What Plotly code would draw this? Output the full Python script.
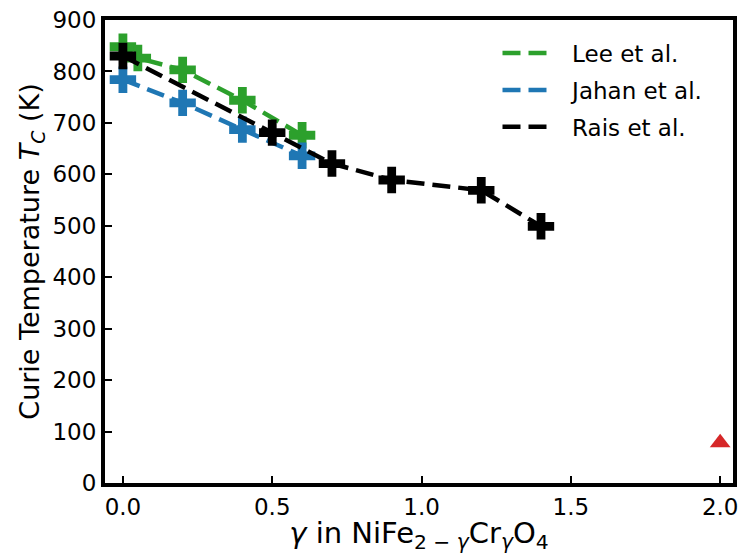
import plotly.graph_objects as go

# Data
lee_x = [0.0, 0.05, 0.2, 0.4, 0.6]
lee_y = [848, 826, 803, 744, 676]
jahan_x = [0.0, 0.2, 0.4, 0.6]
jahan_y = [784, 739, 687, 636]
rais_x = [0.0, 0.5, 0.7, 0.9, 1.2, 1.4]
rais_y = [830, 681, 621, 589, 569, 499]
red_x = [2.0]
red_y = [78]
legend_names = ["Lee et al.", "Jahan et al.", "Rais et al."]

GREEN = "#2ca02c"
BLUE = "#1f77b4"
BLACK = "#000000"
RED = "#d62728"
DASH = "18px,8px"
LW = 4.5
MS = 22

fig = go.Figure()

series = [
    (legend_names[0], lee_x, lee_y, GREEN),
    (legend_names[1], jahan_x, jahan_y, BLUE),
    (legend_names[2], rais_x, rais_y, BLACK),
]
for name, xs, ys, col in series:
    fig.add_trace(go.Scatter(
        x=xs, y=ys, mode="lines+markers", name=name, showlegend=False,
        line=dict(color=col, width=LW, dash=DASH),
        marker=dict(symbol="cross", size=MS, color=col, line=dict(width=0)),
    ))

fig.add_trace(go.Scatter(
    x=red_x, y=red_y, mode="markers", showlegend=False,
    marker=dict(symbol="triangle-up", size=18, color=RED, line=dict(width=0)),
))

# legend entries (lines only)
for i, (name, xs, ys, col) in enumerate(series):
    fig.add_trace(go.Scatter(
        x=[None], y=[None], mode="lines", name="\u00a0\u00a0" + name,
        legendgroup=str(i),
        line=dict(color=col, width=LW, dash=DASH),
    ))

axis_common = dict(
    showline=True, linecolor="black", linewidth=4, mirror=True,
    ticks="inside", ticklen=7, tickwidth=2, tickcolor="black",
    showgrid=False, zeroline=False,
    tickfont=dict(family="DejaVu Sans", size=23, color="black"),
)

fig.update_layout(
    width=742, height=554,
    margin=dict(l=105, r=5, t=20, b=70),
    paper_bgcolor="white", plot_bgcolor="white",
    font=dict(family="DejaVu Sans", color="black"),
    showlegend=True,
    legend=dict(
        x=0.625, y=0.975, xanchor="left", yanchor="top",
        bgcolor="rgba(0,0,0,0)", borderwidth=0,
        font=dict(family="DejaVu Sans", size=23, color="black"),
        tracegroupgap=4, itemwidth=50,
    ),
    xaxis=dict(
        range=[-0.06, 2.043],
        tickvals=[0.0, 0.5, 1.0, 1.5, 2.0],
        ticktext=["0.0", "0.5", "1.0", "1.5", "2.0"],
        title=dict(
            text="<i>γ</i> in NiFe<sub>2 − <i>γ</i></sub>Cr<sub><i>γ</i></sub>O<sub>4</sub>",
            font=dict(family="DejaVu Sans", size=29, color="black"),
            standoff=9,
        ),
        **axis_common,
    ),
    yaxis=dict(
        range=[0, 900],
        tickvals=[0, 100, 200, 300, 400, 500, 600, 700, 800, 900],
        title=dict(
            text="Curie Temperature <i>T</i><sub><i>C</i></sub> (K)",
            font=dict(family="DejaVu Sans", size=27, color="black"),
            standoff=6,
        ),
        **axis_common,
    ),
)

fig.write_html("out.html")
